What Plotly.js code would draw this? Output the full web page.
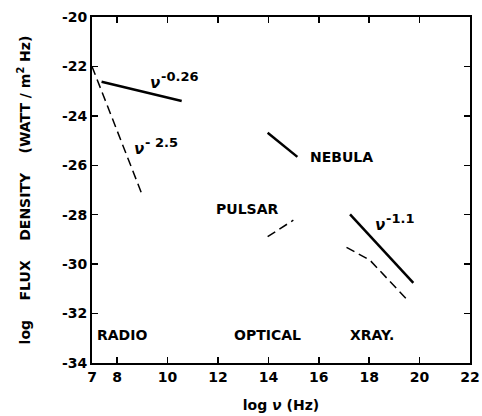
<!DOCTYPE html>
<html>
<head>
<meta charset="utf-8">
<script src="https://cdn.plot.ly/plotly-3.0.1.min.js"></script>
<style>html,body{margin:0;padding:0;background:#fff;}</style>
</head>
<body>
<div id="chart" style="width:482px;height:416px;"></div>
<script>
// Radio
const radioFlatX = [7.38, 10.56];
const radioFlatY = [-22.62, -23.40];
const radioSteepX = [7.0, 8.97];
const radioSteepY = [-22.0, -27.14];
// Optical
const nebulaX = [13.97, 15.15];
const nebulaY = [-24.68, -25.66];
const pulsarX = [13.97, 14.99];
const pulsarY = [-28.89, -28.22];
// X-ray
const xrayNebX = [17.24, 19.75];
const xrayNebY = [-27.99, -30.76];
const xrayPulX = [17.1, 18.03, 19.59];
const xrayPulY = [-29.32, -29.84, -31.53];

const xTickVals = [7, 8, 10, 12, 14, 16, 18, 20, 22];
const xTickText = ['7', '8', '10', '12', '14', '16', '18', '20', '22'];
const yTickVals = [-20, -22, -24, -26, -28, -30, -32, -34];
const yTickText = ['-20', '-22', '-24', '-26', '-28', '-30', '-32', '-34'];

// power-law labels: base symbol and exponent
const nuLabels = [
  {x: 9.22, y: -22.68, exp: '-0.26'},
  {x: 8.6, y: -25.35, exp: '- 2.5'},
  {x: 18.15, y: -28.42, exp: '-1.1'}
];
const textLabels = [
  {x: 16.92, y: -25.67, text: 'NEBULA'},
  {x: 13.15, y: -27.77, text: 'PULSAR'},
  {x: 8.19, y: -32.85, text: 'RADIO'},
  {x: 13.96, y: -32.85, text: 'OPTICAL'},
  {x: 18.13, y: -32.85, text: 'XRAY.'}
];

const FONT = 'DejaVu Sans, Liberation Sans, sans-serif';
const solid = {color: '#000', width: 2.5, dash: 'solid'};
const dashed = {color: '#000', width: 1.5, dash: '9px,5px'};

const traces = [
  {x: radioFlatX, y: radioFlatY, mode: 'lines', line: solid},
  {x: radioSteepX, y: radioSteepY, mode: 'lines', line: dashed},
  {x: nebulaX, y: nebulaY, mode: 'lines', line: solid},
  {x: pulsarX, y: pulsarY, mode: 'lines', line: dashed},
  {x: xrayNebX, y: xrayNebY, mode: 'lines', line: solid},
  {x: xrayPulX, y: xrayPulY, mode: 'lines', line: dashed}
];

const lblFont = {family: FONT, size: 14, color: '#000', weight: 'bold'};
const annotations = [];
textLabels.forEach(l => annotations.push({
  x: l.x, y: l.y, xref: 'x', yref: 'y', text: l.text, showarrow: false,
  xanchor: 'center', yanchor: 'middle', font: lblFont
}));
nuLabels.forEach(l => {
  annotations.push({
    x: l.x, y: l.y, xref: 'x', yref: 'y', text: '<i>ν</i>', showarrow: false,
    xanchor: 'left', yanchor: 'middle', font: {family: FONT, size: 15, color: '#000', weight: 'bold'}
  });
  annotations.push({
    x: l.x, y: l.y, xref: 'x', yref: 'y', text: l.exp, showarrow: false,
    xanchor: 'left', yanchor: 'middle', xshift: 11, yshift: 7,
    font: {family: FONT, size: 13, color: '#000', weight: 'bold'}
  });
});

const layout = {
  width: 482, height: 416,
  margin: {l: 92, r: 12, t: 17, b: 53},
  paper_bgcolor: '#fff', plot_bgcolor: '#fff',
  showlegend: false,
  font: {family: FONT, size: 14, color: '#000'},
  xaxis: {
    range: [7, 22], tickvals: xTickVals, ticktext: xTickText,
    ticks: 'inside', ticklen: 6, tickwidth: 1.5, tickcolor: '#000',
    showline: true, linewidth: 2, linecolor: '#000', mirror: 'ticks',
    showgrid: false, zeroline: false,
    tickfont: {family: FONT, size: 14, color: '#000', weight: 'bold'},
    title: {text: '\u00a0\u00a0\u00a0log <i>ν</i> (Hz)', standoff: 16, font: {family: FONT, size: 14, color: '#000', weight: 'bold'}}
  },
  yaxis: {
    range: [-34, -20], tickvals: yTickVals, ticktext: yTickText,
    ticks: 'inside', ticklen: 6, tickwidth: 1.5, tickcolor: '#000',
    showline: true, linewidth: 2, linecolor: '#000', mirror: 'ticks',
    showgrid: false, zeroline: false,
    tickfont: {family: FONT, size: 14, color: '#000', weight: 'bold'},
    title: {text: 'log\u00a0\u00a0\u00a0 FLUX\u00a0\u00a0\u00a0 DENSITY\u00a0\u00a0\u00a0 (WATT / m<sup>2</sup> Hz)', standoff: 28,
      font: {family: FONT, size: 14, color: '#000', weight: 'bold'}}
  },
  annotations: annotations
};

Plotly.newPlot('chart', traces, layout, {staticPlot: true, displayModeBar: false});
</script>
</body>
</html>
